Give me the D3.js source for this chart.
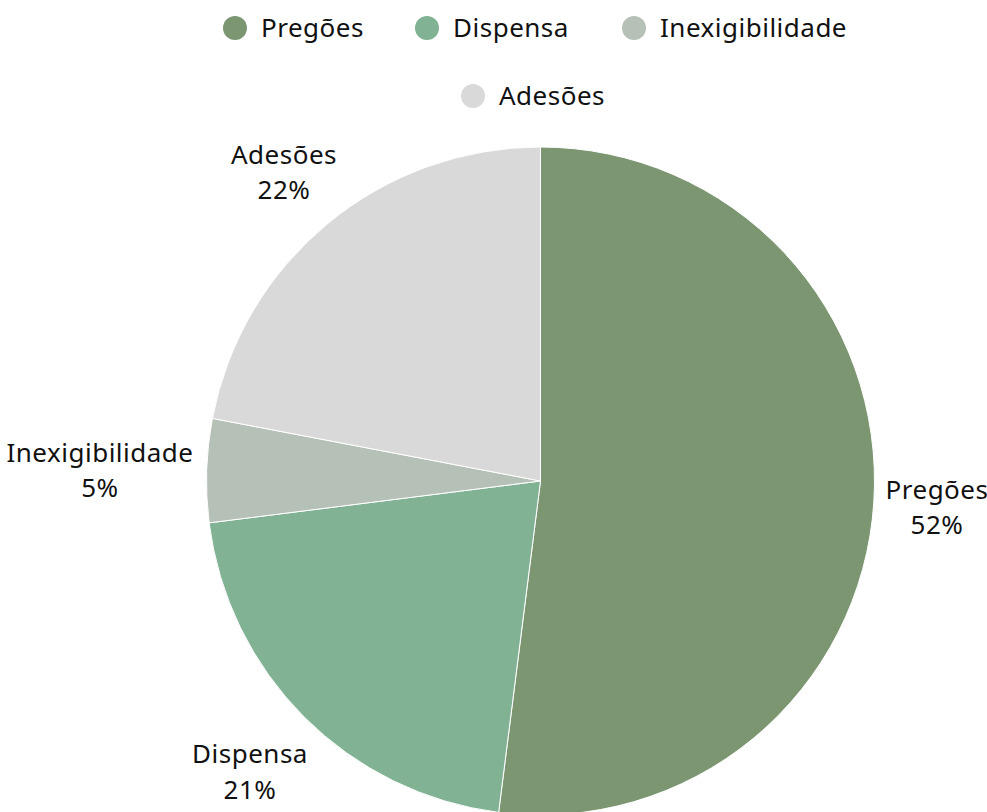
<!DOCTYPE html>
<html><head><meta charset="utf-8">
<script src="https://cdn.jsdelivr.net/npm/d3@7"></script>
<style>body{margin:0;background:#fff}svg{display:block}text{font-family:"Noto Sans",sans-serif;fill:#111;letter-spacing:0.5px}</style>
</head><body>
<svg id="c" width="987" height="812"></svg>
<script>
const categories = ["Pregões","Dispensa","Inexigibilidade","Adesões"];
const values = [52,21,5,22];
const colors = ["#7c9672","#81b294","#b5c0b6","#d9d9d9"];
const labelPos = [[937,499,35],[250,763,36],[100,462,35],[284,164,35]];

const svg = d3.select("#c");
const cx = 540.5, cy = 481, r = 334;
const data = categories.map((c,i)=>({name:c,value:values[i],color:colors[i]}));
const pie = d3.pie().value(d=>d.value).sort(null);
const arc = d3.arc().innerRadius(0).outerRadius(r);
const g = svg.append("g").attr("transform",`translate(${cx},${cy})`);
g.selectAll("path").data(pie(data)).join("path")
  .attr("d",arc).attr("fill",d=>d.data.color).attr("stroke","#fff").attr("stroke-width",1);

// labels
const lab = svg.append("g");
data.forEach((d,i)=>{
  const t = lab.append("text").attr("text-anchor","middle").attr("font-size",26)
    .attr("x",labelPos[i][0]).attr("y",labelPos[i][1]);
  t.append("tspan").attr("x",labelPos[i][0]).text(d.name);
  t.append("tspan").attr("x",labelPos[i][0]).attr("dy",labelPos[i][2]).text(d.value+"%");
});

// legend
const legPos = [[235,28],[427,28],[634,28],[473,96]];
const leg = svg.append("g");
data.forEach((d,i)=>{
  leg.append("circle").attr("cx",legPos[i][0]).attr("cy",legPos[i][1]).attr("r",12).attr("fill",d.color);
  leg.append("text").attr("x",legPos[i][0]+26).attr("y",legPos[i][1]+9).attr("font-size",26).text(d.name);
});
</script>
</body></html>
